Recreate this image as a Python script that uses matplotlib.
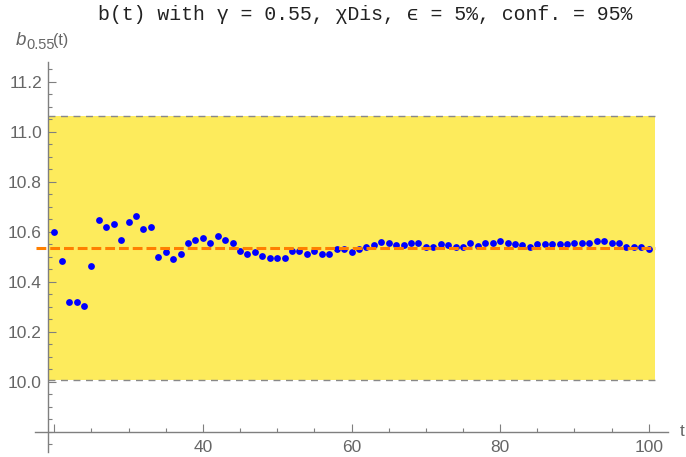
import numpy as np
import matplotlib
matplotlib.use('Agg')
import matplotlib.pyplot as plt
from matplotlib.ticker import FixedLocator, FixedFormatter

plt.rcParams['font.family'] = ['Liberation Sans', 'DejaVu Sans']

# data
t = np.arange(20, 101)
b = [10.598, 10.483, 10.319, 10.319, 10.304, 10.461, 10.647, 10.618, 10.632, 10.568,
     10.639, 10.662, 10.611, 10.618, 10.498, 10.518, 10.490, 10.511, 10.554, 10.568,
     10.575, 10.554, 10.583, 10.568, 10.554, 10.524, 10.511, 10.518, 10.504, 10.496,
     10.496, 10.496, 10.524, 10.524, 10.511, 10.524, 10.511, 10.511, 10.532, 10.532,
     10.518, 10.532, 10.539, 10.547, 10.560, 10.553, 10.547, 10.547, 10.553, 10.553,
     10.539, 10.539, 10.552, 10.547, 10.539, 10.539, 10.555, 10.543, 10.556, 10.556,
     10.563, 10.556, 10.549, 10.547, 10.540, 10.549, 10.549, 10.549, 10.549, 10.549,
     10.556, 10.556, 10.556, 10.563, 10.563, 10.556, 10.556, 10.539, 10.539, 10.540,
     10.531]
center = 10.535
eps = 0.05

yellow = '#FDEB5C'
axis_col = '#7f7f7f'
label_col = '#666666'

fig = plt.figure(figsize=(6.86, 4.57), dpi=100)
W, H = 686, 457
ax = fig.add_axes([35 / W, (H - 452) / H, (668 - 35) / W, (452 - 61.7) / H])

def tx(px):
    return 20 + (px - 54.3) / 7.43

def vy(py):
    return 10 + (381.7 - py) / 250

ax.set_xlim(tx(35), tx(668))
ax.set_ylim(vy(452), vy(61.7))

lo, hi = center * (1 - eps), center * (1 + eps)
x0, x1 = tx(47.5), tx(655)
ax.fill_between([x0, x1], lo, hi, color=yellow, lw=0, zorder=1)
ax.plot([x0, x1], [hi, hi], color='#888888', lw=1.0, dashes=(5, 4), zorder=2)
ax.plot([x0, x1], [lo, lo], color='#888888', lw=1.0, dashes=(5, 4), zorder=2)

ax.plot(t, b, 'o', color='#0000ff', ms=4.9, mec='none', zorder=3)
ax.plot([tx(36), x1], [center, center], color='#ff7f00', lw=2.2, dashes=(3.2, 1.3), zorder=4)

for s in ['top', 'right']:
    ax.spines[s].set_visible(False)
ax.spines['left'].set_position(('data', tx(47.5)))
ax.spines['bottom'].set_position(('data', 9.8))
for s in ['left', 'bottom']:
    ax.spines[s].set_color(axis_col)
    ax.spines[s].set_linewidth(1.0)

ax.xaxis.set_major_locator(FixedLocator([20, 40, 60, 80, 100]))
ax.xaxis.set_major_formatter(FixedFormatter(['', '40', '60', '80', '100']))
ax.xaxis.set_minor_locator(FixedLocator([25, 30, 35, 45, 50, 55, 65, 70, 75, 85, 90, 95]))
yt = [10.0, 10.2, 10.4, 10.6, 10.8, 11.0, 11.2]
ax.yaxis.set_major_locator(FixedLocator(yt))
ax.yaxis.set_major_formatter(FixedFormatter(['%.1f' % v for v in yt]))
ax.yaxis.set_minor_locator(FixedLocator([v for v in np.arange(9.75, 11.26, 0.05)
                                         if min(abs(v - y) for y in yt) > 0.01]))

ax.tick_params(axis='both', which='major', direction='in', length=5.5, width=0.8,
               color=axis_col, labelcolor=label_col, labelsize=12.5)
ax.tick_params(axis='both', which='minor', direction='in', length=3, width=0.8,
               color=axis_col)
ax.tick_params(axis='x', which='major', pad=6)
ax.tick_params(axis='y', which='major', pad=4)
ax.set_facecolor('none')

fig.text(365 / W, 1 - 15 / H, 'b(t) with \u03b3 = 0.55, \u03c7Dis, \u03f5 = 5%, conf. = 95%',
         family=['Liberation Mono', 'DejaVu Sans Mono'], fontsize=14.3, color='#222222',
         ha='center', va='center')
# y axis label b_0.55(t)
fig.text(16 / W, 1 - 45 / H, 'b', fontsize=13.5, style='italic', color=label_col,
         ha='left', va='baseline')
fig.text(26.5 / W, 1 - 49 / H, '0.55', fontsize=10.5, color=label_col,
         ha='left', va='baseline')
fig.text(53 / W, 1 - 45 / H, '(t)', fontsize=11.5, color=label_col,
         ha='left', va='baseline')
fig.text(680 / W, 1 - 432 / H, 't', fontsize=12.5, color=label_col, ha='left', va='center')

fig.savefig('out.png', dpi=100)
